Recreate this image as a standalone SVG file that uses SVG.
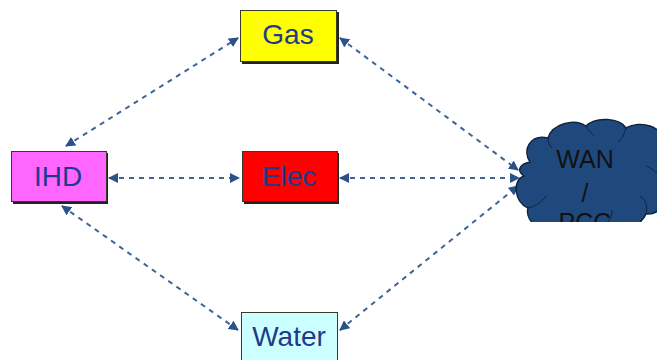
<svg xmlns="http://www.w3.org/2000/svg" width="657" height="360" viewBox="0 0 657 360">
  <style>
    .box { stroke: #3a3a2a; stroke-width: 1; }
    .shadow { fill: #222; }
    .lbl { font-family: "Liberation Sans", Arial, sans-serif; font-size: 28px; fill: #1f3a8a; text-anchor: middle; }
    .link { fill: none; stroke: #3d6496; stroke-width: 2; stroke-dasharray: 5 5; marker-start: url(#tip); marker-end: url(#tip); }
    .cloudtxt { font-family: "Liberation Sans", Arial, sans-serif; font-size: 25px; fill: #111; text-anchor: middle; }
  </style>
  <defs>
    <marker id="tip" viewBox="0 0 10 10" refX="9" refY="5" markerWidth="5" markerHeight="5" orient="auto-start-reverse" markerUnits="strokeWidth">
      <path d="M0 0 L10 5 L0 10 z" fill="#2a5288"/>
    </marker>
    <clipPath id="cloudclip"><rect x="500" y="100" width="160" height="122"/></clipPath>
  </defs>
  <rect width="657" height="360" fill="#fff"/>

  <g id="connectors">
    <line class="link" x1="66" y1="146" x2="238" y2="38"/>
    <line class="link" x1="340" y1="38" x2="518" y2="170"/>
    <line class="link" x1="109" y1="178" x2="239" y2="178"/>
    <line class="link" x1="340" y1="178" x2="519" y2="178"/>
    <line class="link" x1="62" y1="206" x2="238" y2="330"/>
    <line class="link" x1="340" y1="330" x2="518" y2="186"/>
  </g>

  <g id="gas">
    <rect class="shadow" x="242" y="12" width="97" height="52"/>
    <rect class="box" x="240.5" y="10.5" width="96" height="51" fill="#ffff00"/>
    <text class="lbl" x="288" y="44">Gas</text>
  </g>

  <g id="ihd">
    <rect class="shadow" x="13" y="153" width="95" height="51"/>
    <rect class="box" x="11.5" y="151.5" width="95" height="50" fill="#ff66ff"/>
    <text class="lbl" x="58" y="186">IHD</text>
  </g>

  <g id="elec">
    <rect class="shadow" x="244" y="153" width="95" height="51"/>
    <rect class="box" x="242.5" y="151.5" width="95" height="50" fill="#ff0000"/>
    <text class="lbl" x="289" y="186" fill="#2040a0">Elec</text>
  </g>

  <g id="water">
    <rect class="box" x="241.5" y="312.5" width="96" height="60" fill="#ccffff" stroke="#8fb0b0"/>
    <text class="lbl" x="289" y="346">Water</text>
  </g>

  <g id="wan" clip-path="url(#cloudclip)">
    <path d="M530 162 C522 150 530 134 548 138 C552 124 574 118 586 126 C596 116 620 118 626 128 C640 120 664 126 662 142 C674 150 672 170 662 178 C672 192 664 216 646 214 C640 228 620 232 606 226 C596 236 572 236 562 228 C546 234 524 224 528 208 C514 202 512 180 524 176 C516 170 520 164 530 162 Z" fill="#1f497d" stroke="#10243f" stroke-width="1.5"/>
    <path d="M528 208 C536 206 542 202 546 196 M606 226 C610 220 612 216 612 210 M646 214 C648 206 646 200 640 196 M662 178 C656 172 652 168 646 166 M626 128 C624 134 622 140 618 142 M586 126 C588 130 592 134 594 136 M548 138 C548 142 550 146 552 148" fill="none" stroke="#10243f" stroke-width="1"/>
    <text class="cloudtxt" x="585" y="168">WAN</text>
    <text class="cloudtxt" x="585" y="202">/</text>
    <text class="cloudtxt" x="585" y="231">PCC</text>
  </g>
</svg>
